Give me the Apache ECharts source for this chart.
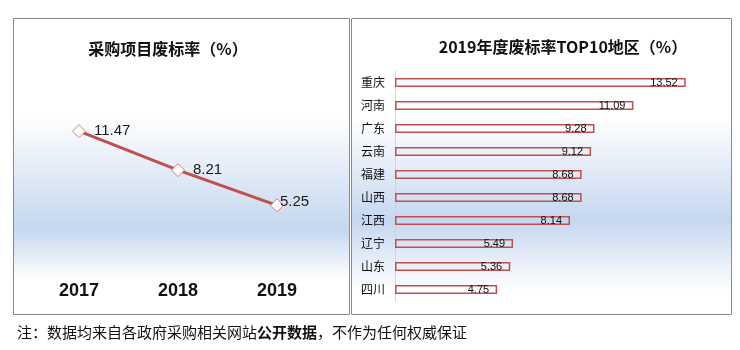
<!DOCTYPE html>
<html>
<head>
<meta charset="utf-8">
<script src="https://cdn.jsdelivr.net/npm/echarts@6/dist/echarts.min.js"></script>
<style>
  html, body { margin: 0; padding: 0; background: #fff; }
  #chart { width: 740px; height: 350px; }
</style>
</head>
<body>
<div id="chart"></div>
<script>
  // 左图：历年废标率
  var years = ['2017', '2018', '2019'];
  var yearRates = [11.47, 8.21, 5.25];
  // 右图：2019 年 TOP10 地区
  var regions = ['重庆', '河南', '广东', '云南', '福建', '山西', '江西', '辽宁', '山东', '四川'];
  var regionRates = [13.52, 11.09, 9.28, 9.12, 8.68, 8.68, 8.14, 5.49, 5.36, 4.75];

  var cjk = '"Noto Sans CJK SC", sans-serif';
  var latin = '"Liberation Sans", Arial, sans-serif';
  var blue = '#c5d7ef';

  function panelFill(a, b, c) {
    return new echarts.graphic.LinearGradient(0, 0, 0, 1, [
      { offset: 0, color: '#ffffff' },
      { offset: a, color: '#ffffff' },
      { offset: b, color: blue },
      { offset: c, color: '#ffffff' },
      { offset: 1, color: '#ffffff' }
    ]);
  }

  // 最后一个点的标签贴近数据点（原图如此）
  var lineData = yearRates.map(function (v, i) {
    if (i === yearRates.length - 1) {
      return { value: v, label: { offset: [-12, -4] } };
    }
    return v;
  });

  var chart = echarts.init(document.getElementById('chart'));
  chart.setOption({
    animation: false,
    backgroundColor: '#fff',
    title: [
      {
        text: '采购项目废标率（%）',
        left: 163, top: 36, textAlign: 'center',
        textStyle: { fontFamily: cjk, fontSize: 16, fontWeight: 'bold', color: '#111' }
      },
      {
        text: '2019年度废标率TOP10地区（%）',
        left: 558, top: 34, textAlign: 'center',
        textStyle: { fontFamily: cjk, fontSize: 16, fontWeight: 'bold', color: '#111' }
      }
    ],
    graphic: [
      {
        type: 'rect', z: -10, silent: true,
        shape: { x: 13.5, y: 18.5, width: 336, height: 296 },
        style: { fill: panelFill(0.33, 0.71, 0.88), stroke: '#8a8a8a', lineWidth: 1 }
      },
      {
        type: 'rect', z: -10, silent: true,
        shape: { x: 351.5, y: 18.5, width: 380, height: 296 },
        style: { fill: panelFill(0.34, 0.68, 0.92), stroke: '#8a8a8a', lineWidth: 1 }
      },
      {
        type: 'text', left: 17, top: 325, silent: true,
        style: {
          text: '注：数据均来自各政府采购相关网站{b|公开数据}，不作为任何权威保证',
          fontFamily: cjk, fontSize: 15, fill: '#111',
          rich: { b: { fontFamily: cjk, fontSize: 15, fontWeight: 'bold', color: '#111' } }
        }
      }
    ],
    grid: [
      { left: 29.5, top: 101, width: 297, height: 167 },
      { left: 395, top: 71, width: 301, height: 230 }
    ],
    xAxis: [
      {
        gridIndex: 0, type: 'category', data: years, boundaryGap: true,
        axisLine: { show: false }, axisTick: { show: false },
        axisLabel: { margin: 14, fontFamily: latin, fontSize: 18, fontWeight: 'bold', color: '#111' }
      },
      {
        gridIndex: 1, type: 'value', min: 0, max: 14, show: false
      }
    ],
    yAxis: [
      { gridIndex: 0, type: 'value', min: 0, max: 14, show: false },
      {
        gridIndex: 1, type: 'category', data: regions, inverse: true,
        axisLine: { show: true, lineStyle: { color: '#d4d4d4', width: 1 } },
        axisTick: { show: false },
        axisLabel: { margin: 10, fontFamily: cjk, fontSize: 12, color: '#111' }
      }
    ],
    series: [
      {
        type: 'line', xAxisIndex: 0, yAxisIndex: 0, data: lineData,
        lineStyle: { color: '#c0504d', width: 3 },
        symbol: 'diamond', symbolSize: 13,
        itemStyle: { color: '#ffffff', borderColor: '#e07a78', borderWidth: 1 },
        label: {
          show: true, position: 'right', distance: 8,
          fontFamily: latin, fontSize: 15, color: '#1a1a1a'
        }
      },
      {
        type: 'bar', xAxisIndex: 1, yAxisIndex: 1, data: regionRates, barWidth: 9,
        itemStyle: { color: 'rgba(255,255,255,0)', borderColor: '#c0504d', borderWidth: 1.5 },
        label: {
          show: true, position: 'insideRight', distance: 8,
          fontFamily: latin, fontSize: 11, color: '#111'
        }
      }
    ]
  });
</script>
</body>
</html>
